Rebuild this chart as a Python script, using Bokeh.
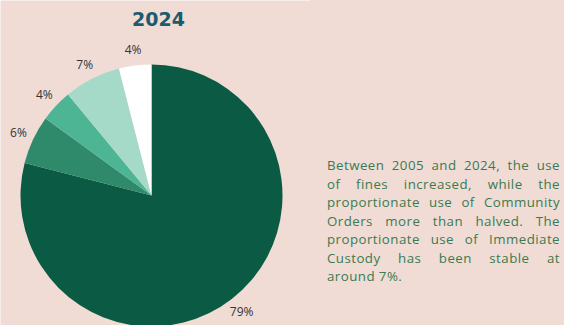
from bokeh.plotting import figure
from bokeh.models import Range1d, Div, ColumnDataSource
from bokeh.layouts import row
from bokeh.embed import file_html
from bokeh.resources import INLINE
from bokeh.core.properties import value
import math

title = "2024"
shares = [79, 6, 4, 7, 4]
share_labels = ["79%", "6%", "4%", "7%", "4%"]
colors = ["#0b5b44", "#2e8a6a", "#4db594", "#a6dac8", "#ffffff"]
note_lines = [
    "Between 2005 and 2024, the use",
    "of fines increased, while the",
    "proportionate use of Community",
    "Orders more than halved. The",
    "proportionate use of Immediate",
    "Custody has been stable at",
    "around 7%.",
]

bg = "#f0dcd5"
cx, cy, R, RL = 151, 130, 131, 147

total = sum(shares)
starts, ends, lx, ly = [], [], [], []
cum = 0.0
for s in shares:
    a0 = math.pi / 2 - 2 * math.pi * cum / total
    a1 = math.pi / 2 - 2 * math.pi * (cum + s) / total
    starts.append(a0)
    ends.append(a1)
    mid = (a0 + a1) / 2
    lx.append(cx + RL * math.cos(mid))
    ly.append(cy + RL * math.sin(mid))
    cum += s

src = ColumnDataSource(dict(start=starts, end=ends, color=colors,
                            lx=lx, ly=ly, lab=share_labels))

p = figure(width=310, height=325, output_backend="svg", toolbar_location=None,
           x_range=Range1d(0, 310), y_range=Range1d(0, 325),
           min_border=0, background_fill_color=bg, border_fill_color=bg, margin=0)
p.axis.visible = False
p.grid.visible = False
p.outline_line_color = None

p.wedge(x=cx, y=cy, radius=R, start_angle="start", end_angle="end",
        direction="clock", fill_color="color", line_color=None, source=src)
p.text(x="lx", y="ly", text="lab", source=src, text_align="center",
       text_baseline="middle", text_font=value("Open Sans"), text_font_size="12px",
       text_color="#333333")
p.text(x=[158], y=[307], text=[title], text_align="center", text_baseline="middle",
       text_font=value("DejaVu Sans"), text_font_style="bold", text_font_size="19px",
       text_color="#1b5b6e")

line_html = []
for i, ln in enumerate(note_lines):
    last = "left" if i == len(note_lines) - 1 else "justify"
    line_html.append("<div style=\"text-align:justify; text-align-last:%s; white-space:nowrap;\">%s</div>"
                     % (last, ln))

div = Div(width=254, height=325, margin=0,
          styles={"background-color": bg},
          text=("<div style=\"box-sizing:content-box; font-family:'Open Sans', sans-serif; font-size:13.3px; "
                "letter-spacing:0.45px; line-height:18.5px; color:#3b7a50; margin:0; "
                "padding:156px 0 0 17px; width:233px;\">"
                + "".join(line_html) + "</div>"))

layout = row(p, div, spacing=0)
open("out.html", "w").write(file_html(layout, INLINE))
